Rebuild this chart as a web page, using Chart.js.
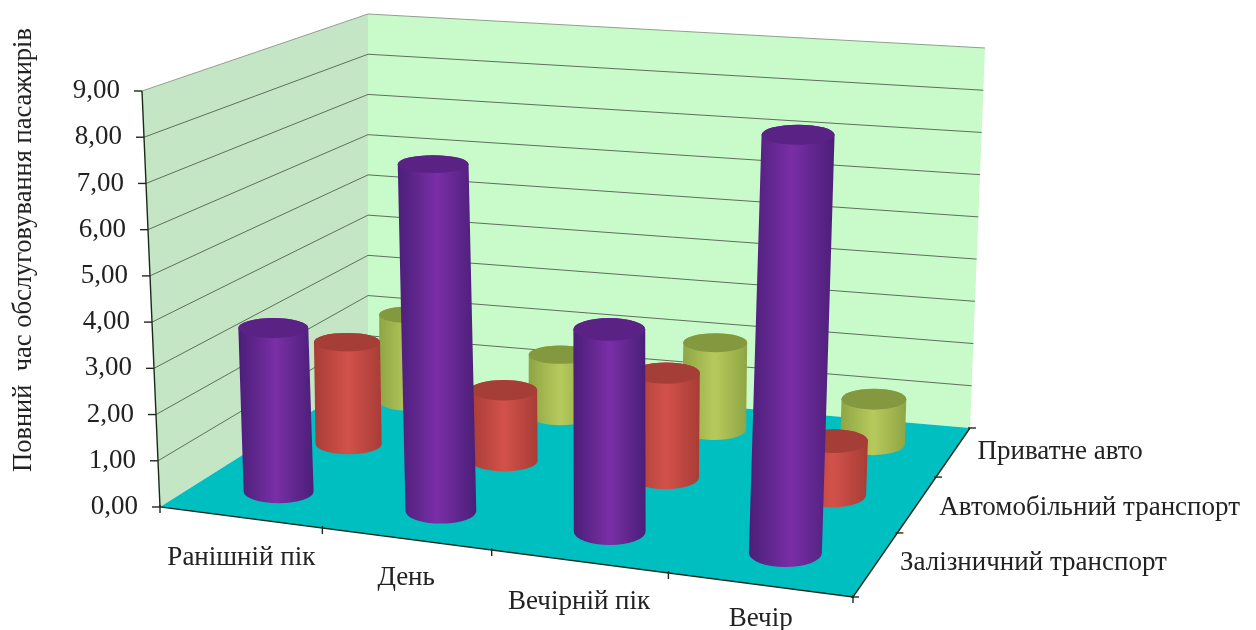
<!DOCTYPE html>
<html lang="uk">
<head>
<meta charset="utf-8">
<style>html,body{margin:0;padding:0;background:#fff}canvas{display:block}</style>
<script src="https://cdn.jsdelivr.net/npm/chart.js@4"></script>
</head>
<body>
<canvas id="chart" width="1256" height="630"></canvas>
<script>
// Періоди доби
const periods = ['Ранішній пік', 'День', 'Вечірній пік', 'Вечір'];
// Види транспорту, від переднього ряду до заднього
const transportKinds = ['Залізничний транспорт', 'Автомобільний транспорт', 'Приватне авто'];
// Повний час обслуговування пасажирів
const railValues = [3.6, 7.55, 4.35, 8.9];
const roadValues = [2.35, 1.6, 2.35, 1.2];
const carValues = [2.1, 1.45, 2.05, 1.05];
const axisTitle = 'Повний  час обслуговування пасажирів';

// Box corners of the oblique view, as page coordinates
const floorQuad = [[160, 507], [853, 597], [970, 428], [368, 376]];
const ceilQuad = [[142, 91], [876, 163], [985, 48], [368, 14]];

// Unit square to quadrilateral mapping
function quadMap(q) {
  const [[x0, y0], [x1, y1], [x2, y2], [x3, y3]] = q;
  const sx = x0 - x1 + x2 - x3, sy = y0 - y1 + y2 - y3;
  const dx1 = x1 - x2, dx2 = x3 - x2, dy1 = y1 - y2, dy2 = y3 - y2;
  const den = dx1 * dy2 - dx2 * dy1;
  const g = (sx * dy2 - dx2 * sy) / den, h = (dx1 * sy - sx * dy1) / den;
  const a = x1 - x0 + g * x1, b = x3 - x0 + h * x3;
  const d = y1 - y0 + g * y1, e = y3 - y0 + h * y3;
  return (s, t) => {
    const k = g * s + h * t + 1;
    return [(a * s + b * t + x0) / k, (d * s + e * t + y0) / k];
  };
}
const onFloor = quadMap(floorQuad);
const onCeil = quadMap(ceilQuad);

// Softens the foreshortening along the period direction
function easeS(s) {
  const f = 0.915 * s / (1 - 0.085 * s);
  return f / (0.829 + 0.171 * f);
}

function project(s, t, w) {
  const u = easeS(s);
  const f = onFloor(u, t), c = onCeil(u + 0.014 * Math.sin(Math.PI * u), t);
  return [f[0] + (c[0] - f[0]) * w, f[1] + (c[1] - f[1]) * w];
}

const palette = [
  { edge: '#4a1f78', mid: '#7a2ea6', cap: '#5b2286' },
  { edge: '#a83c36', mid: '#d2524a', cap: '#a63e38' },
  { edge: '#8fa544', mid: '#b6ca5c', cap: '#84983f' }
];
const radiusS = 0.0486, radiusT = 0.0735;
const serif = '"Liberation Serif", "DejaVu Serif", serif';
const textColor = '#222222';

function tracePoly(ctx, pts) {
  ctx.beginPath();
  pts.forEach((p, i) => i ? ctx.lineTo(p[0], p[1]) : ctx.moveTo(p[0], p[1]));
  ctx.closePath();
}

// Half extents of a floor-parallel circle at the given height
function spread(s, t, w) {
  let minX = Infinity, maxX = -Infinity, minY = Infinity, maxY = -Infinity;
  for (let i = 0; i < 48; i++) {
    const a = i / 48 * Math.PI * 2;
    const p = project(s + radiusS * Math.cos(a), t + radiusT * Math.sin(a), w);
    minX = Math.min(minX, p[0]); maxX = Math.max(maxX, p[0]);
    minY = Math.min(minY, p[1]); maxY = Math.max(maxY, p[1]);
  }
  return [(maxX - minX) / 2, (maxY - minY) / 2];
}

function drawCylinder(ctx, s, t, w, colors) {
  const [bx, by] = project(s, t, 0), [tx, ty] = project(s, t, w);
  const [rx, ryBase] = spread(s, t, 0);
  const ryTop = spread(s, t, w)[1];
  const minX = Math.min(bx, tx) - rx, maxX = Math.max(bx, tx) + rx;
  const grad = ctx.createLinearGradient(minX, 0, maxX, 0);
  grad.addColorStop(0, colors.edge);
  grad.addColorStop(0.5, colors.mid);
  grad.addColorStop(1, colors.edge);
  ctx.beginPath();
  ctx.moveTo(bx - rx, by);
  ctx.ellipse(bx, by, rx, ryBase, 0, Math.PI, 0, true);
  ctx.lineTo(tx + rx, ty);
  ctx.ellipse(tx, ty, rx, ryTop, 0, 0, Math.PI, true);
  ctx.closePath();
  ctx.fillStyle = grad;
  ctx.fill();
  ctx.beginPath();
  ctx.ellipse(tx, ty, rx, ryTop, 0, 0, Math.PI * 2);
  ctx.fillStyle = colors.cap;
  ctx.fill();
}

const boxPlugin = {
  id: 'obliqueBox',
  beforeDatasetsDraw(chart) {
    const { ctx, scales } = chart;
    const xs = scales.x, ys = scales.y, zs = scales.z;
    const sOf = i => xs.getDecimalForPixel(xs.getPixelForValue(i));
    const tOf = i => zs.getDecimalForPixel(zs.getPixelForValue(i));
    const wOf = v => ys.getDecimalForPixel(ys.getPixelForValue(v));
    ctx.save();

    // Walls and floor
    tracePoly(ctx, [project(0, 0, 0), project(0, 0, 1), project(0, 1, 1), project(0, 1, 0)]);
    ctx.fillStyle = '#c5e6c5';
    ctx.fill();
    tracePoly(ctx, [project(0, 1, 0), project(0, 1, 1), project(1, 1, 1), project(1, 1, 0)]);
    ctx.fillStyle = '#c9fac9';
    ctx.fill();
    tracePoly(ctx, [project(0, 0, 0), project(1, 0, 0), project(1, 1, 0), project(0, 1, 0)]);
    ctx.fillStyle = '#00bfc0';
    ctx.fill();

    // Value gridlines across both walls
    ys.ticks.forEach(tick => {
      const w = wOf(tick.value);
      if (w === 0) return;
      const a = project(0, 0, w), b = project(0, 1, w), c = project(1, 1, w);
      ctx.beginPath();
      ctx.moveTo(a[0], a[1]); ctx.lineTo(b[0], b[1]); ctx.lineTo(c[0], c[1]);
      ctx.strokeStyle = w === 1 ? '#8f9f8f' : '#5d6f5d';
      ctx.lineWidth = 1;
      ctx.stroke();
    });

    // Cylinders, rear row first
    const rows = chart.data.datasets.map((d, i) => i).reverse();
    rows.forEach(r => {
      chart.data.datasets[r].data.forEach((v, c) => {
        drawCylinder(ctx, sOf(c), tOf(r), wOf(v), palette[r]);
      });
    });

    // Axis lines
    ctx.strokeStyle = '#1c2a1c';
    ctx.lineWidth = 1.4;
    const path = pts => {
      ctx.beginPath();
      pts.forEach((p, i) => i ? ctx.lineTo(p[0], p[1]) : ctx.moveTo(p[0], p[1]));
      ctx.stroke();
    };
    path([project(0, 0, 1), project(0, 0, 0), project(1, 0, 0), project(1, 1, 0)]);

    // Value axis ticks and labels
    ctx.font = '27px ' + serif;
    ctx.fillStyle = textColor;
    ctx.textBaseline = 'middle';
    ctx.textAlign = 'right';
    ys.ticks.forEach(tick => {
      const p = project(0, 0, wOf(tick.value));
      path([[p[0] - 8, p[1]], [p[0], p[1]]]);
      ctx.fillText(tick.label, p[0] - 22, p[1]);
    });

    // Period ticks and labels
    periods.forEach((_, i) => {
      const edge = project((i + 1) / periods.length, 0, 0);
      path([[edge[0], edge[1] - 2], [edge[0], edge[1] + 6]]);
    });
    const start = project(0, 0, 0);
    path([[start[0], start[1] - 2], [start[0], start[1] + 6]]);
    const labelShift = [[1, 40], [0, 39], [0, 40], [1, 34]];
    ctx.textAlign = 'center';
    periods.forEach((name, i) => {
      const p = project(sOf(i), 0, 0);
      ctx.fillText(name, p[0] + labelShift[i][0], p[1] + labelShift[i][1]);
    });

    // Transport ticks and labels
    for (let i = 0; i <= transportKinds.length; i++) {
      const p = project(1, i / transportKinds.length, 0);
      path([[p[0] - 2, p[1]], [p[0] + 6, p[1]]]);
    }
    const kindShift = [[24, -1], [22, 4], [24, 0]];
    ctx.textAlign = 'left';
    transportKinds.forEach((name, i) => {
      const p = project(1, tOf(i), 0);
      ctx.fillText(name, p[0] + kindShift[i][0], p[1] + kindShift[i][1]);
    });

    // Rotated axis title
    ctx.save();
    ctx.translate(24, 250);
    ctx.rotate(-Math.PI / 2);
    ctx.textAlign = 'center';
    ctx.font = '26.5px ' + serif;
    ctx.fillText(axisTitle, 0, 0);
    ctx.restore();

    ctx.restore();
    return false;
  }
};

new Chart(document.getElementById('chart'), {
  type: 'bar',
  data: {
    labels: periods,
    datasets: [
      { label: transportKinds[0], data: railValues, backgroundColor: palette[0].mid },
      { label: transportKinds[1], data: roadValues, backgroundColor: palette[1].mid },
      { label: transportKinds[2], data: carValues, backgroundColor: palette[2].mid }
    ]
  },
  options: {
    responsive: false,
    animation: false,
    plugins: { legend: { display: false }, tooltip: { enabled: false } },
    scales: {
      x: { display: false, offset: true },
      y: {
        display: false, min: 0, max: 9,
        ticks: { stepSize: 1, callback: v => v.toFixed(2).replace('.', ',') }
      },
      z: { type: 'category', axis: 'x', display: false, labels: transportKinds, offset: true }
    }
  },
  plugins: [boxPlugin]
});
</script>
</body>
</html>
